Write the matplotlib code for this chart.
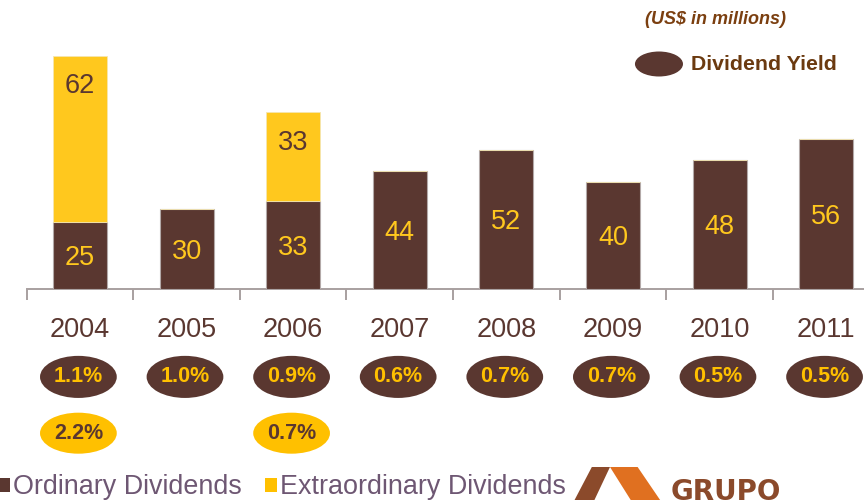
import matplotlib
matplotlib.use("Agg")
import matplotlib.pyplot as plt
import matplotlib.transforms as mtransforms
from matplotlib.patches import Ellipse, Patch, Polygon

plt.rcParams["font.family"] = ["Liberation Sans", "DejaVu Sans"]

# ------------------------------------------------------------------ data
years = ["2004", "2005", "2006", "2007", "2008", "2009", "2010", "2011"]
ordinary = [25, 30, 33, 44, 52, 40, 48, 56]
extraordinary = [62, 0, 33, 0, 0, 0, 0, 0]
yield_ordinary = ["1.1%", "1.0%", "0.9%", "0.6%", "0.7%", "0.7%", "0.5%", "0.5%"]
yield_extra = ["2.2%", None, "0.7%", None, None, None, None, None]

BROWN = "#5a3730"
YELLOW = "#ffc81e"
YELLOW_OVAL = "#ffc000"
GRID_GREY = "#a8a0a0"
LEGEND_TXT = "#6e5773"
TITLE_BROWN = "#7b3f10"

fig = plt.figure(figsize=(8.64, 5.0), dpi=100)
ax = fig.add_axes([0.0309, 0.422, 0.9691, 0.536])

x = list(range(len(years)))
ax.bar(x, ordinary, width=0.507, color=BROWN, edgecolor="#b3a9a8",
       linewidth=0.8, zorder=3)
ax.bar(x, extraordinary, width=0.507, bottom=ordinary, color=YELLOW,
       edgecolor="#f5e6b0", linewidth=0.6, zorder=3)

# values inside the bars
for i, v in enumerate(ordinary):
    ax.annotate(str(v), xy=(i, v / 2), xytext=(0, -2),
                textcoords="offset points", ha="center", va="center",
                fontsize=19.5, color=YELLOW, zorder=4)
for i, v in enumerate(extraordinary):
    if v:
        ax.annotate(str(v), xy=(i, ordinary[i] + v), xytext=(0, -22),
                    textcoords="offset points", ha="center", va="center",
                    fontsize=19.5, color=BROWN, zorder=4)

# category boundary ticks (set before the limits, set_xticks widens them)
ax.set_xticks([i - 0.5 for i in range(len(years) + 1)])
ax.set_xticklabels([])
ax.set_xlim(-0.5, 7.355)
ax.set_ylim(0, 100)
for side in ("top", "right", "left"):
    ax.spines[side].set_visible(False)
ax.spines["bottom"].set_color(GRID_GREY)
ax.spines["bottom"].set_linewidth(1.4)
ax.set_yticks([])
ax.tick_params(axis="x", direction="out", length=8, width=1.4,
               color=GRID_GREY)

# year labels and dividend-yield ovals below the axis
trans = mtransforms.blended_transform_factory(ax.transData, ax.transAxes)
for i, yr in enumerate(years):
    ax.text(i, -0.153, yr, transform=trans, ha="center", va="center",
            fontsize=19.5, color=BROWN, clip_on=False)
    ax.add_patch(Ellipse((i - 0.015, -0.328), 0.72, 0.157, transform=trans,
                         facecolor=BROWN, edgecolor="none", clip_on=False))
    ax.text(i - 0.015, -0.328, yield_ordinary[i], transform=trans,
            ha="center", va="center", fontsize=15.5, fontweight="bold",
            color=YELLOW_OVAL, clip_on=False)
    if yield_extra[i]:
        ax.add_patch(Ellipse((i - 0.015, -0.538), 0.72, 0.153,
                             transform=trans, facecolor=YELLOW_OVAL,
                             edgecolor="none", clip_on=False))
        ax.text(i - 0.015, -0.538, yield_extra[i], transform=trans,
                ha="center", va="center", fontsize=15.5, fontweight="bold",
                color=BROWN, clip_on=False)

# units and the yield key, top right
fig.text(0.828, 0.961, "(US$ in millions)", ha="center", va="center",
         fontsize=13, fontweight="bold", fontstyle="italic",
         color=TITLE_BROWN)
fig.patches.append(Ellipse((0.7627, 0.872), 0.0556, 0.05,
                           transform=fig.transFigure, facecolor=BROWN,
                           edgecolor="none"))
fig.text(0.800, 0.872, "Dividend Yield", ha="left", va="center",
         fontsize=15.3, fontweight="bold", color="#6b3a10")

# series legend, bottom left
handles = [Patch(facecolor=BROWN, label="Ordinary Dividends"),
           Patch(facecolor=YELLOW_OVAL, label="Extraordinary Dividends")]
fig.legend(handles=handles, loc="center left", bbox_to_anchor=(-0.002, 0.025),
           ncol=2, frameon=False, fontsize=19.4, labelcolor=LEGEND_TXT,
           handlelength=0.45, handleheight=0.45, handletextpad=0.1,
           columnspacing=0.85, borderpad=0, borderaxespad=0)

# company mark, bottom right
fig.patches.append(Polygon([(0.665, 0.0), (0.685, 0.066), (0.706, 0.066),
                            (0.688, 0.0)], closed=True,
                           transform=fig.transFigure, facecolor="#8b4a2b",
                           edgecolor="none"))
fig.patches.append(Polygon([(0.706, 0.066), (0.738, 0.066), (0.764, 0.0),
                            (0.730, 0.0)], closed=True,
                           transform=fig.transFigure, facecolor="#e07020",
                           edgecolor="none"))
fig.text(0.776, -0.012, "GRUPO", ha="left", va="bottom", fontsize=20,
         fontweight="bold", color="#8b4a2b", family="DejaVu Sans")

fig.savefig("out.png", dpi=100)
